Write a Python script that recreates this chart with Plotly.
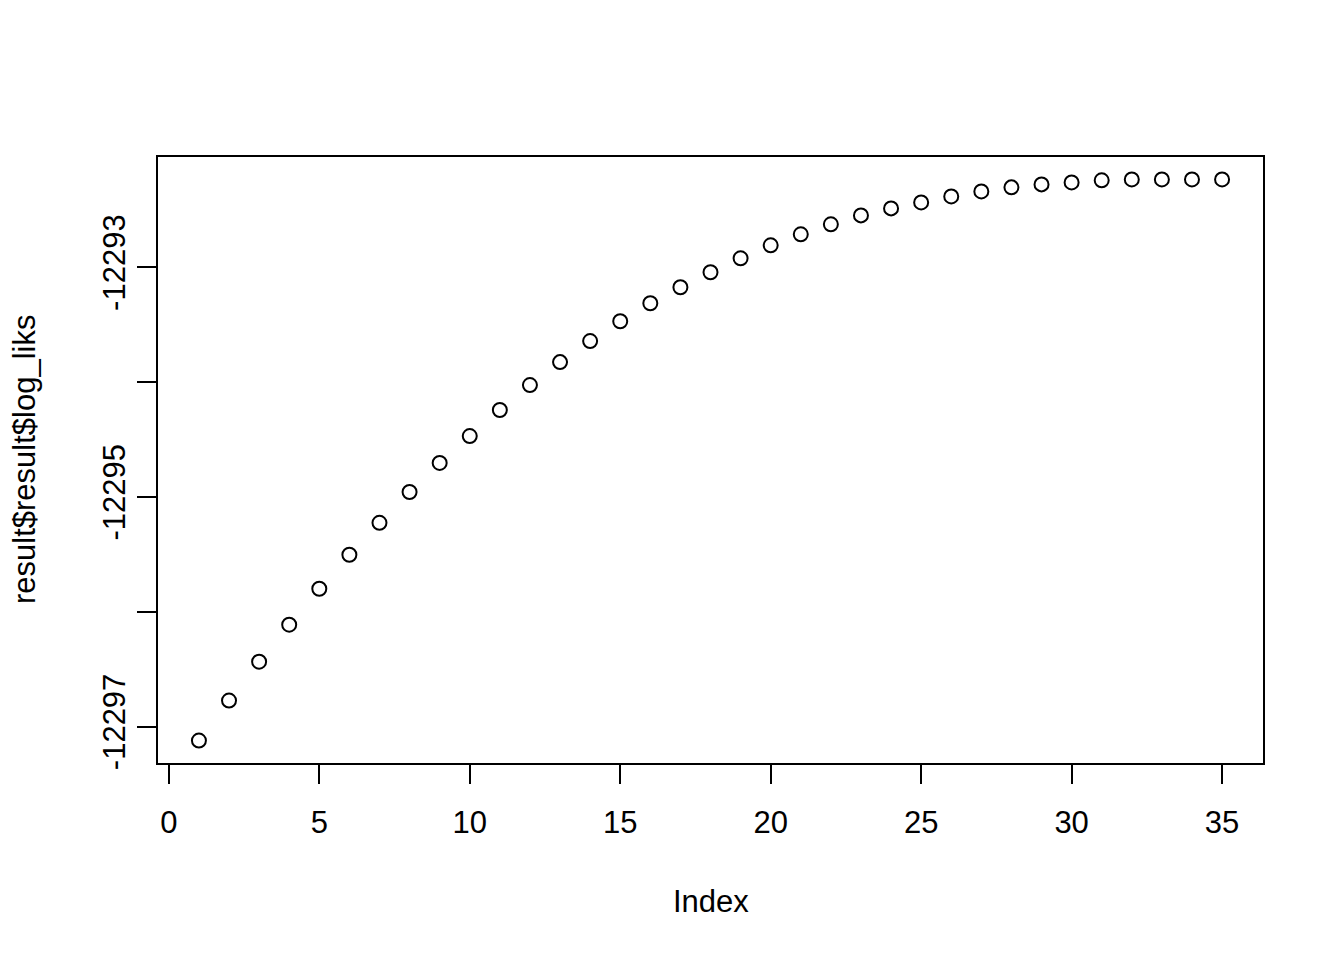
import plotly.graph_objects as go

index = list(range(1, 36))
log_liks = [
    -12297.122, -12296.774, -12296.435, -12296.113, -12295.800,
    -12295.504, -12295.226, -12294.957, -12294.704, -12294.470,
    -12294.243, -12294.026, -12293.826, -12293.643, -12293.470,
    -12293.313, -12293.174, -12293.043, -12292.922, -12292.809,
    -12292.713, -12292.626, -12292.548, -12292.487, -12292.435,
    -12292.383, -12292.339, -12292.304, -12292.278, -12292.261,
    -12292.243, -12292.235, -12292.235, -12292.235, -12292.235,
]
x_ticks = [0, 5, 10, 15, 20, 25, 30, 35]
y_ticks = [-12297, -12296, -12295, -12294, -12293]
y_ticktext = ["-12297", "", "-12295", "", "-12293"]

FONT = "Liberation Sans, Arial, Helvetica, sans-serif"

xmin, xmax = min(index), max(index)
ymin, ymax = min(log_liks), max(log_liks)
xpad = (xmax - xmin) * 0.04
ypad = (ymax - ymin) * 0.04

fig = go.Figure()
fig.add_trace(go.Scatter(
    x=index, y=log_liks, mode="markers",
    marker=dict(symbol="circle-open", size=14, color="black",
                line=dict(width=2, color="black")),
    showlegend=False, hoverinfo="x+y",
))

fig.update_layout(
    width=1344, height=960,
    paper_bgcolor="white", plot_bgcolor="white",
    margin=dict(l=150, r=89, t=149, b=205, pad=0),
    font=dict(family=FONT, size=32, color="black"),
    xaxis=dict(
        range=[xmin - xpad, xmax + xpad],
        tickvals=x_ticks, ticktext=[str(v) for v in x_ticks],
        ticks="outside", ticklen=19, tickwidth=2, tickcolor="black",
        showline=True, linewidth=2, linecolor="black", mirror=True,
        showgrid=False, zeroline=False, ticklabelstandoff=12,
        tickfont=dict(family=FONT, size=31, color="black"),
    ),
    yaxis=dict(
        range=[ymin - ypad, ymax + ypad],
        tickvals=y_ticks, ticktext=y_ticktext,
        ticks="outside", ticklen=19, tickwidth=2, tickcolor="black",
        showline=True, linewidth=2, linecolor="black", mirror=True,
        showgrid=False, zeroline=False, tickangle=-90,
        tickfont=dict(family=FONT, size=31, color="black"),
    ),
    annotations=[
        dict(text="Index", x=0.5, y=0, xref="paper", yref="paper",
             xanchor="center", yanchor="middle", yshift=-138,
             showarrow=False, font=dict(family=FONT, size=31, color="black")),
        dict(text="result$result$log_liks", x=0, y=0.5, xref="paper", yref="paper",
             xanchor="center", yanchor="middle", xshift=-134, textangle=-90,
             borderpad=0,
             showarrow=False, font=dict(family=FONT, size=31, color="black")),
    ],
)

fig.write_html("out.html")
